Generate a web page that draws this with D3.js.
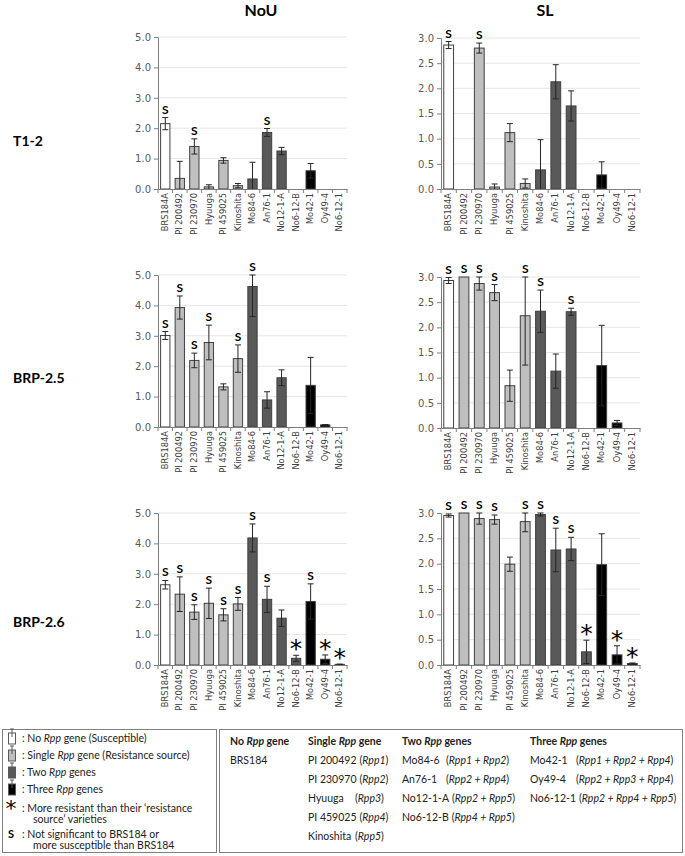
<!DOCTYPE html>
<html><head><meta charset="utf-8">
<script src="https://cdn.jsdelivr.net/npm/d3@7"></script>
<style>body{margin:0;background:#fff}svg{display:block}</style>
</head><body>
<script>
const categories = ["BRS184A","PI 200492","PI 230970","Hyuuga","PI 459025","Kinoshita","Mo84-6","An76-1","No12-1-A","No6-12-B","Mo42-1","Oy49-4","No6-12-1"];
const geneGroup = [0,1,1,1,1,1,2,2,2,2,3,3,3];
const groupColors = ["#ffffff","#bfbfbf","#595959","#000000"];

const rowLabels = ["T1-2","BRP-2.5","BRP-2.6"];
const colLabels = ["NoU","SL"];
const noUTicks = [0,1,2,3,4,5];
const slTicks = [0,0.5,1,1.5,2,2.5,3];

// T1-2
const t12NoU    = [2.15,0.35,1.40,0.07,0.94,0.11,0.33,1.86,1.25,0,0.60,0,0];
const t12NoUErr = [0.20,0.56,0.25,0.07,0.09,0.07,0.55,0.13,0.12,0,0.24,0,0];
const t12NoUSig = ["S","","S","","","","","S","","","","",""];
const t12SL     = [2.86,0,2.80,0.04,1.12,0.11,0.38,2.13,1.65,0,0.28,0,0];
const t12SLErr  = [0.07,0,0.10,0.06,0.18,0.09,0.60,0.34,0.30,0,0.26,0,0];
const t12SLSig  = ["S","","S","","","","","","","","","",""];
// BRP-2.5
const b25NoU    = [3.01,3.93,2.19,2.78,1.32,2.25,4.62,0.89,1.62,0,1.37,0.07,0];
const b25NoUErr = [0.13,0.38,0.24,0.57,0.10,0.45,0.99,0.27,0.26,0,0.92,0.01,0];
const b25NoUSig = ["S","S","S","S","","S","S","","","","","",""];
const b25SL     = [2.93,3.00,2.87,2.69,0.84,2.23,2.32,1.13,2.31,0,1.24,0.10,0];
const b25SLErr  = [0.06,0,0.13,0.16,0.31,0.98,0.42,0.34,0.07,0,0.80,0.05,0];
const b25SLSig  = ["S","S","S","S","","S","S","","S","","","",""];
// BRP-2.6
const b26NoU    = [2.64,2.33,1.74,2.03,1.65,2.01,4.18,2.16,1.54,0.22,2.09,0.19,0.02];
const b26NoUErr = [0.14,0.57,0.24,0.50,0.20,0.21,0.46,0.43,0.27,0.10,0.58,0.14,0.01];
const b26NoUSig = ["S","S","S","S","S","S","S","S","","*","S","*","*"];
const b26SL     = [2.95,3.00,2.89,2.87,1.99,2.83,2.97,2.27,2.29,0.26,1.98,0.20,0.03];
const b26SLErr  = [0.03,0,0.11,0.09,0.14,0.20,0.03,0.43,0.23,0.23,0.61,0.18,0.01];
const b26SLSig  = ["S","S","S","S","","S","S","S","S","*","","*","*"];

// legend content
const legendSwatches = [": No |Rpp| gene (Susceptible)", ": Single |Rpp| gene (Resistance source)", ": Two |Rpp| genes", ": Three |Rpp| genes"];
const legendHeaders = ["No |Rpp| gene","Single |Rpp| gene","Two |Rpp| genes","Three |Rpp| genes"];
const legendNames = [["BRS184"],["PI 200492","PI 230970","Hyuuga","PI 459025","Kinoshita"],["Mo84-6","An76-1","No12-1-A","No6-12-B"],["Mo42-1","Oy49-4","No6-12-1"]];
const legendGenes = [[""],["Rpp1","Rpp2","Rpp3","Rpp4","Rpp5"],["Rpp1 + Rpp2","Rpp2 + Rpp4","Rpp2 + Rpp5","Rpp4 + Rpp5"],["Rpp1 + Rpp2 + Rpp4","Rpp2 + Rpp3 + Rpp4","Rpp2 + Rpp4 + Rpp5"]];

const W = 685, H = 856;
const svg = d3.select("body").append("svg").attr("width", W).attr("height", H);
const FONT = "Lato, 'Open Sans', sans-serif";

const panels = [
  {v:t12NoU, e:t12NoUErr, s:t12NoUSig, max:5, ticks:noUTicks, x0:158, x1:347, y0:189, yT:37},
  {v:t12SL,  e:t12SLErr,  s:t12SLSig,  max:3, ticks:slTicks,  x0:441, x1:640, y0:189, yT:38},
  {v:b25NoU, e:b25NoUErr, s:b25NoUSig, max:5, ticks:noUTicks, x0:158, x1:347, y0:427, yT:275},
  {v:b25SL,  e:b25SLErr,  s:b25SLSig,  max:3, ticks:slTicks,  x0:441, x1:640, y0:428, yT:277},
  {v:b26NoU, e:b26NoUErr, s:b26NoUSig, max:5, ticks:noUTicks, x0:158, x1:347, y0:665, yT:513},
  {v:b26SL,  e:b26SLErr,  s:b26SLSig,  max:3, ticks:slTicks,  x0:441, x1:640, y0:665, yT:513}
];

panels.forEach(p => {
  const g = svg.append("g");
  const x = d3.scaleBand().domain(categories).range([p.x0, p.x1]).paddingInner(0.36).paddingOuter(0.18);
  const y = d3.scaleLinear().domain([0, p.max]).range([p.y0, p.yT]);
  g.selectAll("line.grid").data(p.ticks.filter(t => t > 0)).join("line")
    .attr("x1", p.x0).attr("x2", p.x1).attr("y1", d => y(d)).attr("y2", d => y(d))
    .attr("stroke", "#e6e6e6").attr("stroke-width", 1);
  const ya = g.append("g").attr("transform", `translate(${p.x0},0)`)
    .call(d3.axisLeft(y).tickValues(p.ticks).tickFormat(d3.format(".1f")).tickSize(4).tickSizeOuter(0));
  ya.select(".domain").attr("stroke", "#7f7f7f");
  ya.selectAll(".tick line").attr("stroke", "#7f7f7f");
  ya.selectAll("text").attr("font-family", "DejaVu Sans, Verdana, sans-serif").attr("font-size", 10).attr("fill", "#595959").attr("x", -7);
  g.selectAll("rect.bar").data(categories).join("rect")
    .attr("x", d => x(d)).attr("width", x.bandwidth())
    .attr("y", (d,i) => y(p.v[i])).attr("height", (d,i) => p.y0 - y(p.v[i]))
    .attr("fill", (d,i) => groupColors[geneGroup[i]])
    .attr("stroke", (d,i) => p.v[i] > 0 ? "#404040" : "none").attr("stroke-width", 1);
  categories.forEach((c,i) => {
    if (!(p.e[i] > 0)) return;
    const cx = x(c) + x.bandwidth()/2;
    const lo = Math.max(0, p.v[i] - p.e[i]), hi = Math.min(p.max, p.v[i] + p.e[i]);
    const col = "#262626";
    g.append("line").attr("x1", cx).attr("x2", cx).attr("y1", y(lo)).attr("y2", y(hi)).attr("stroke", col).attr("stroke-width", 1);
    g.append("line").attr("x1", cx-3).attr("x2", cx+3).attr("y1", y(hi)).attr("y2", y(hi)).attr("stroke", col).attr("stroke-width", 1);
    if (lo > 0) g.append("line").attr("x1", cx-3).attr("x2", cx+3).attr("y1", y(lo)).attr("y2", y(lo)).attr("stroke", col).attr("stroke-width", 1);
  });
  categories.forEach((c,i) => {
    const m = p.s[i]; if (!m) return;
    const cx = x(c) + x.bandwidth()/2;
    const top = Math.min(p.max, p.v[i] + p.e[i]);
    if (m === "S") {
      g.append("text").attr("x", cx).attr("y", y(top) - 4).attr("text-anchor", "middle")
        .attr("font-family", FONT).attr("font-weight", "bold").attr("font-size", 12).attr("fill", "#000").text("S");
    } else {
      g.append("text").attr("x", cx).attr("y", y(top) + 2).attr("text-anchor", "middle")
        .attr("font-family", "DejaVu Sans, sans-serif").attr("font-size", 25).attr("fill", "#000").text("*");
    }
  });
  const xa = g.append("g").attr("transform", `translate(0,${p.y0})`)
    .call(d3.axisBottom(x).tickSize(0).tickSizeOuter(0));
  xa.select(".domain").attr("stroke", "#7f7f7f");
  xa.selectAll("text").attr("transform", "rotate(-90)").attr("text-anchor", "end")
    .attr("x", -4).attr("y", 0).attr("dy", "0.32em")
    .attr("font-family", "DejaVu Sans, Verdana, sans-serif").attr("font-size", 8.3).attr("fill", "#404040");
  const step = x.step();
  const bounds = categories.map((c,i) => x(c) - (step - x.bandwidth())/2).concat([p.x1]);
  g.selectAll("line.bt").data(bounds).join("line")
    .attr("x1", d => d).attr("x2", d => d).attr("y1", p.y0).attr("y2", p.y0 + 4)
    .attr("stroke", "#7f7f7f");
});

const colX = [261, 545];
colLabels.forEach((t,i) => svg.append("text").attr("x", colX[i]).attr("y", 16).attr("text-anchor", "middle")
  .attr("font-family", FONT).attr("font-weight", "bold").attr("font-size", 16).text(t));
const rowY = [146, 383, 627];
rowLabels.forEach((t,i) => svg.append("text").attr("x", 13).attr("y", rowY[i])
  .attr("font-family", FONT).attr("font-weight", "bold").attr("font-size", 14).text(t));

function richText(sel, str) {
  str.split("|").forEach((seg, k) => {
    sel.append("tspan").attr("font-style", k % 2 ? "italic" : "normal").text(seg);
  });
}

svg.append("rect").attr("x", 2.5).attr("y", 729.5).attr("width", 214).attr("height", 123).attr("fill", "none").attr("stroke", "#7f7f7f");
svg.append("rect").attr("x", 219.5).attr("y", 729.5).attr("width", 463).attr("height", 123).attr("fill", "none").attr("stroke", "#7f7f7f");

const swY = [738, 755, 772, 789];
legendSwatches.forEach((t,i) => {
  const cy = swY[i];
  svg.append("rect").attr("x", 8.5).attr("y", cy - 5).attr("width", 7).attr("height", 11)
    .attr("fill", groupColors[i]).attr("stroke", "#595959");
  svg.append("line").attr("x1", 12).attr("x2", 12).attr("y1", cy - 9).attr("y2", cy - 1).attr("stroke", "#595959");
  svg.append("line").attr("x1", 10).attr("x2", 14).attr("y1", cy - 9).attr("y2", cy - 9).attr("stroke", "#595959");
  const tx = svg.append("text").attr("x", 22).attr("y", cy + 4).attr("font-family", FONT).attr("font-size", 10.5).attr("fill", "#222");
  richText(tx, t);
});
svg.append("text").attr("x", 11).attr("y", 816).attr("text-anchor", "middle").attr("font-family", "DejaVu Sans, sans-serif").attr("font-size", 22).text("*");
svg.append("text").attr("x", 22).attr("y", 812).attr("font-family", FONT).attr("font-size", 10.5).attr("fill", "#222").text(": More resistant than their \u2018resistance");
svg.append("text").attr("x", 33).attr("y", 823).attr("font-family", FONT).attr("font-size", 10.5).attr("fill", "#222").text("source\u2019 varieties");
svg.append("text").attr("x", 11).attr("y", 838).attr("text-anchor", "middle").attr("font-family", FONT).attr("font-weight", "bold").attr("font-size", 11).text("S");
svg.append("text").attr("x", 22).attr("y", 838).attr("font-family", FONT).attr("font-size", 10.5).attr("fill", "#222").text(": Not significant to BRS184 or");
svg.append("text").attr("x", 33).attr("y", 849).attr("font-family", FONT).attr("font-size", 10.5).attr("fill", "#222").text("more susceptible than BRS184");

const colStart = [230, 308, 402, 530];
const geneX = [0, 355, 446, 576];
const rowBase = [745, 764, 783, 802, 821, 840];
legendHeaders.forEach((h,c) => {
  const t = svg.append("text").attr("x", colStart[c]).attr("y", rowBase[0]).attr("font-family", FONT).attr("font-weight", "bold").attr("font-size", 10.5).attr("fill", "#222");
  richText(t, h);
  legendNames[c].forEach((n,r) => {
    const nt = svg.append("text").attr("x", colStart[c]).attr("y", rowBase[r+1]).attr("font-family", FONT).attr("font-size", 10.5).attr("fill", "#222").text(n);
    const gtxt = legendGenes[c][r];
    if (gtxt) {
      const nameEnd = colStart[c] + nt.node().getComputedTextLength();
      const gx = Math.max(geneX[c], nameEnd + 3);
      const gt = svg.append("text").attr("x", gx).attr("y", rowBase[r+1]).attr("font-family", FONT).attr("font-size", 10.5).attr("fill", "#222");
      gt.append("tspan").text("(");
      gt.append("tspan").attr("font-style", "italic").text(gtxt);
      gt.append("tspan").text(")");
    }
  });
});
</script>
</body></html>
